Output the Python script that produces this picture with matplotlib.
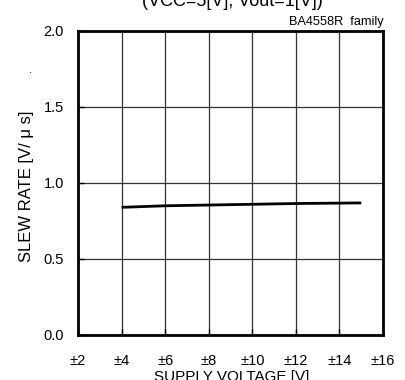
import matplotlib
matplotlib.use("Agg")
import matplotlib.pyplot as plt

supply_v = [4, 6, 8, 10, 12, 15]
slew_rate = [0.84, 0.85, 0.855, 0.86, 0.865, 0.869]
x_ticks = [2, 4, 6, 8, 10, 12, 14, 16]
x_labels = ["±2", "±4", "±6", "±8", "±10", "±12", "±14", "±16"]
y_ticks = [0.0, 0.5, 1.0, 1.5, 2.0]
y_labels = ["0.0", "0.5", "1.0", "1.5", "2.0"]

plt.rcParams['font.family'] = ['Liberation Sans', 'DejaVu Sans']
fs = 10.5

fig = plt.figure(figsize=(4.06, 3.80), dpi=100)
ax = fig.add_axes([78/406, 1-335/380, (383-78)/406, (335-31)/380])
ax.plot(supply_v, slew_rate, color='black', lw=2, solid_capstyle='butt')
ax.set_xlim(2, 16)
ax.set_ylim(0, 2.0)
ax.set_xticks(x_ticks)
ax.set_xticklabels(x_labels, fontsize=fs)
ax.set_yticks(y_ticks)
ax.set_yticklabels(y_labels, fontsize=fs)
ax.grid(True, color='#333333', lw=0.9)
ax.tick_params(direction='in', length=4, width=1, top=False, right=False)
ax.tick_params(axis='x', pad=14)
ax.tick_params(axis='y', pad=10)
for s in ax.spines.values():
    s.set_linewidth(2)
    s.set_zorder(5)
ax.set_ylabel("SLEW RATE [V/ μ s]", fontsize=12, va='center')
ax.yaxis.set_label_coords((27-78)/305, 0.49)
fig.text(232/406, -1/380, "SUPPLY VOLTAGE [V]", fontsize=11, ha='center', va='baseline')
fig.text(232/406, 1-6/380, "(VCC=5[V], Vout=1[V])", fontsize=13, ha='center', va='baseline')
fig.text(384/406, 1-22/380, "BA4558R  family", fontsize=9.2, ha='right', va='center')
fig.text(30/406, 1-70/380, ".", fontsize=8, ha='center', va='center')
fig.savefig("out.png", dpi=100)
